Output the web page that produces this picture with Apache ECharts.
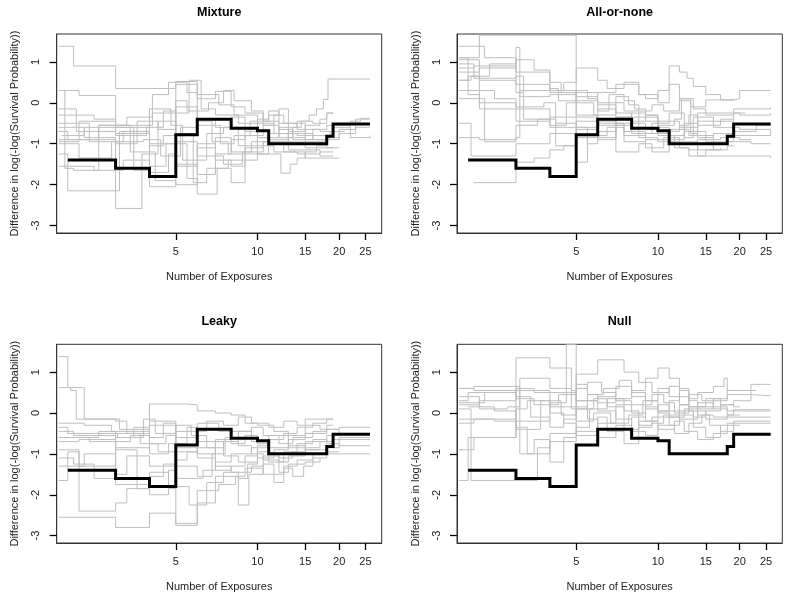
<!DOCTYPE html>
<html><head><meta charset="utf-8">
<script src="https://cdn.jsdelivr.net/npm/echarts@6/dist/echarts.min.js"></script>
<style>html,body{margin:0;padding:0;background:#fff}#c{width:789px;height:594px}</style>
</head><body><div id="c"></div>
<script>
const panelTitles = ['Mixture', 'All-or-none', 'Leaky', 'Null'];
const xTicks = [5, 10, 15, 20, 25];
const yTicks = [-3, -2, -1, 0, 1];
const xAxisTitle = 'Number of Exposures';
const yAxisTitle = 'Difference in log(-log(Survival Probability))';

// observed step curve (same in every panel)
const blackX = [2, 3, 4, 5, 6, 8, 10, 11, 18, 19, 26];
const blackY = [-1.4, -1.6, -1.8, -0.78, -0.4, -0.62, -0.68, -1.0, -0.82, -0.52, -0.52];

// simulated step curves, [x, y] pairs
const mixtureGray = [
  [[1.85,1.38],[2.1,0.9],[3.0,0.35],[5.0,0.52],[6.0,0.2],[7.2,-0.05],[8.2,-0.3],[10,-0.5],[11.5,-0.75],[13,-0.95],[15,-1.1],[19,-1.1]],
  [[1.85,-0.95],[2.2,-0.45],[3.0,-0.55],[4.1,-0.25],[5.0,0.45],[6.0,0.1],[7.0,0.28],[8.0,-0.1],[9.0,-0.25],[10.5,-0.55],[12,-0.85],[13.5,-0.6],[14.5,-0.45],[15.5,-0.3],[16.5,-0.15],[17.5,0.08],[18.2,0.58],[26,0.58]],
  [[1.85,-0.6],[2.3,-0.85],[3.0,-2.58],[3.75,-1.25],[4.3,-0.45],[5.0,-0.95],[6.0,-1.3],[7.5,-1.5],[8.8,-1.2],[10.5,-0.95],[13,-1.15],[17,-1.3],[19,-1.3]],
  [[1.85,-1.25],[2.0,-2.15],[3.1,-0.7],[4.0,-1.55],[4.6,-1.0],[5.5,-1.85],[6.0,-2.23],[7.1,-1.6],[8.0,-1.95],[9,-1.4],[10,-0.85],[12,-0.6],[14,-0.45],[16,-0.5],[18,-0.25],[19,-0.25]],
  [[1.9,0.3],[2.2,0.18],[3.0,-0.6],[4.0,-1.0],[5.0,-0.25],[5.6,0.55],[6.2,-0.15],[7.0,-0.3],[8.5,-0.5],[10,-0.85],[11,-1.0],[12.5,-1.2],[15,-1.35],[20,-1.35]],
  [[1.85,0.3],[1.95,-1.6],[2.1,-1.65],[2.6,-0.55],[3.4,-1.2],[4.2,-1.9],[5.0,-2.0],[6.0,-1.1],[7.0,-0.85],[8.0,-1.2],[9.5,-0.95],[11,-0.75],[14,-0.8],[16,-0.65],[18,-0.55],[22,-0.45],[24,-0.38],[26,-0.38]],
  [[1.85,-0.5],[2.4,-0.95],[3.2,-0.7],[4.0,-0.15],[4.8,-0.55],[5.3,-1.4],[6.5,-0.75],[7.5,-0.6],[8.5,-1.05],[10,-1.25],[12.2,-1.72],[13.2,-1.5],[14,-1.35],[15,-1.2],[16.5,-1.05],[18,-0.9],[20,-0.75],[23,-0.6],[26,-0.6]],
  [[1.85,-1.0],[2.2,-1.35],[2.9,-0.95],[3.8,-0.9],[4.4,-1.3],[5.2,-0.6],[6.0,-0.45],[6.8,-0.95],[7.8,-1.25],[9,-0.8],[10.5,-0.55],[11.5,-0.3],[12.5,-0.5],[14,-0.65],[17,-0.7],[19,-0.55],[22,-0.85],[26,-0.8]],
  [[1.85,-0.3],[2.5,-0.4],[3.0,-0.75],[4.0,-1.7],[4.7,-1.25],[5.0,-0.1],[6.0,-0.55],[7.3,-1.0],[8.2,-0.8],[9.4,-0.45],[11,-0.3],[12,-0.15],[13,-0.5],[15,-0.9],[18,-1.1],[20,-1.1]],
  [[1.85,-0.15],[2.15,-0.7],[3.0,-0.8],[3.9,-0.6],[4.5,-0.2],[5.0,-0.75],[5.8,-1.95],[6.5,-1.6],[7.8,-1.4],[9,-1.1],[10.5,-0.95],[13,-0.75],[16,-0.9],[18.5,-0.7],[21,-0.7]],
  [[1.9,-0.8],[2.3,-0.6],[3.5,-1.65],[4.0,-2.05],[5.0,-1.55],[6.0,-1.0],[7.0,-1.4],[8.0,-1.55],[9,-1.25],[11,-0.9],[13,-0.7],[15,-0.55],[17,-0.4],[18,-0.25],[19,-0.25]],
  [[1.85,-0.9],[2.6,-0.55],[3.3,-0.35],[4.1,0.2],[4.7,0.5],[5.5,0.25],[6.0,-0.4],[7.0,-0.6],[8.0,-0.35],[9,-0.7],[10,-1.05],[11.5,-1.2],[14,-1.25],[17,-1.2],[19,-1.2]],
  [[1.85,-1.55],[2.5,-1.65],[3.2,-1.4],[4.0,-1.05],[4.5,-0.8],[5.0,-1.5],[6.0,-1.75],[7.0,-1.25],[8.0,-0.9],[9.0,-0.65],[10,-0.4],[11,-0.2],[12,-0.5],[13,-0.85],[15,-0.95],[18,-0.85],[20,-0.65],[23,-0.4],[26,-0.4]],
  [[1.85,-0.7],[2.0,-0.9],[3.0,-1.0],[3.6,-0.45],[4.3,-0.65],[5.0,0.05],[5.5,-0.2],[6.6,0.0],[7.5,0.3],[8.2,0.05],[9.5,-0.2],[10.5,-0.45],[12,-0.65],[13.5,-0.9],[16,-0.8],[19,-0.6],[22,-0.6]]
];
const allOrNoneGray = [
  [[1.85,1.38],[2.3,1.1],[3.0,0.45],[4.0,0.25],[5.0,-0.3],[6.0,-0.55],[7.5,-0.7],[9,-0.9],[11,-0.95],[14,-1.3],[26,-1.35]],
  [[1.85,1.1],[2.2,1.65],[5.0,0.05],[6.0,0.0],[7.5,-0.2],[8.5,-0.35],[10,-0.45],[12,-0.6],[14,-0.45],[19,-0.25],[21,-0.25]],
  [[1.85,0.55],[2.0,0.65],[2.4,0.95],[3.0,1.05],[3.5,0.8],[4.0,0.3],[5.0,0.15],[6.0,0.25],[7.0,0.45],[8.5,0.2],[10,0.0],[11,0.9],[12,0.75],[12.8,0.6],[13.5,0.4],[15,0.2],[17,0.07],[19,0.07]],
  [[1.85,0.95],[2.1,0.6],[3.0,0.65],[3.2,-0.4],[4.0,-0.6],[5.0,-0.45],[6.0,-0.15],[7.0,-0.55],[8.0,-0.75],[9.5,-0.5],[11,-0.25],[12.5,-0.85],[13.5,-0.35],[16,-0.6],[20,-0.65],[26,-0.8]],
  [[1.85,0.3],[2.5,0.1],[3.0,-0.1],[3.8,0.0],[4.2,-0.5],[5.0,-1.45],[5.5,-0.8],[6.5,-0.6],[7.5,-0.8],[9,-1.1],[10.5,-0.85],[12,-1.0],[14,-1.15],[16,-1.0],[18,-0.95],[22,-1.0],[26,-1.0]],
  [[1.85,0.85],[2.1,0.9],[3.0,0.75],[4.0,0.5],[4.4,0.25],[5.0,0.0],[5.8,-0.3],[7.0,0.15],[7.8,-0.05],[8.5,-0.2],[9.5,-0.05],[10.5,-0.2],[12,0.1],[13.2,-0.1],[15,0.07],[19,0.1],[20,0.3],[26,0.3]],
  [[1.85,-0.85],[2.2,-0.9],[3.0,-0.55],[3.6,-0.4],[4.2,-1.05],[5.0,-0.85],[6.0,-0.45],[7.0,-1.2],[8.5,-1.0],[9.5,-1.2],[11,-0.8],[12.5,-0.5],[14,-0.85],[16,-0.75],[19,-0.7],[23,-0.55],[26,-0.55]],
  [[1.85,0.1],[2.3,-0.95],[3.0,-0.85],[3.1,0.3],[4.0,0.35],[4.3,0.05],[5.0,-0.35],[6.0,-0.9],[7.0,-0.35],[8.0,-0.5],[9.0,-0.65],[10,-0.8],[11.5,-1.1],[13,-1.15],[14,-0.9],[17,-0.85],[20,-0.9],[22,-0.9]],
  [[1.85,0.75],[2.2,0.85],[3.0,1.35],[3.1,0.15],[4.0,0.2],[5.0,0.3],[5.5,0.1],[6.0,-0.2],[6.6,0.2],[7.5,0.05],[8.2,-0.15],[9,-0.3],[10,-0.55],[11.5,-0.4],[12.2,0.1],[13.5,-0.15],[15,-0.3],[19,-0.15],[26,-0.1]],
  [[1.85,1.1],[2.0,0.2],[2.2,0.0],[3.0,-0.15],[4.0,-0.55],[4.6,0.0],[5.0,0.25],[6.0,-0.05],[7.0,-0.25],[8.0,-0.45],[9,-0.3],[10,-0.7],[12,-0.55],[13,-0.3],[14,-0.55],[17,-0.4],[19,-0.4]],
  [[1.85,-0.5],[2.05,-1.3],[3.0,-1.0],[4.0,-0.75],[5.0,-0.6],[5.5,-1.0],[6.0,-0.7],[7.0,-0.35],[8.5,-0.85],[10,-0.95],[12,-1.1],[13,-1.3],[15,-1.15],[17,-1.1]],
  [[2.1,-1.95],[3.0,-1.45],[3.5,-1.35],[4.0,-1.15],[4.5,-1.05],[5.0,-0.65],[6.0,-0.5],[7.5,-0.95],[9,-0.75],[11,-0.65],[13,-0.8],[16,-1.15],[18,-1.05],[19,-1.05]],
  [[1.85,1.05],[2.2,0.55],[3.0,0.25],[3.2,0.3],[4.5,0.5],[5.0,0.85],[6.0,0.55],[6.5,0.35],[7.5,0.5],[8.5,0.2],[9,0.1],[10,0.3],[11,0.45],[12,0.05],[13.2,-0.75],[14,-0.25],[20,-0.3],[26,-0.25]],
  [[1.85,0.55],[2.05,0.65],[2.2,-0.15],[3.0,-0.45],[4.0,-0.35],[5.0,-0.6],[6.0,-0.85],[7.0,-0.5],[8.0,-0.25],[9.0,-0.45],[10,-0.6],[11,-0.9],[12.5,-0.7],[15,-0.95],[19,-0.8],[26,-0.8]]
];
const leakyGray = [
  [[1.85,1.38],[2.0,0.62],[2.3,-0.15],[3.0,-0.2],[3.3,-0.5],[4.0,-0.3],[5.0,-0.85],[6.0,-1.0],[7.0,-0.65],[8.0,-0.45],[9.5,-0.7],[11,-0.85],[13,-0.65],[15,-0.5],[18,-0.4],[20,-0.35],[26,-0.35]],
  [[1.85,0.62],[2.05,0.55],[2.15,-0.15],[3.1,-0.4],[4.0,0.22],[5.5,0.2],[6.0,0.05],[7.0,0.0],[8.0,-0.05],[9,-0.25],[10,-0.3],[11.5,-0.45],[13,-0.55],[15,-0.15],[19,-0.15]],
  [[1.85,-2.55],[3.0,-2.8],[4.0,-2.45],[5.0,-2.75],[6.0,-2.2],[7.0,-1.55],[8.5,-2.25],[9.3,-1.5],[10.5,-1.25],[11.5,-1.7],[12.5,-1.3],[14,-1.15],[16,-1.0],[18,-0.85],[20,-0.6],[26,-0.6]],
  [[1.85,-1.65],[2.0,-0.95],[2.2,-2.4],[3.0,-2.2],[3.3,-1.85],[4.0,-2.0],[4.7,-1.4],[5.0,-2.7],[6.0,-1.9],[7.2,-1.75],[8.3,-1.55],[9,-1.35],[10.5,-1.5],[12.5,-1.35],[13.5,-1.55],[14.8,-1.3],[16,-1.1],[18,-1.0],[19.5,-1.0],[26,-1.0]],
  [[1.85,-0.9],[2.2,-1.3],[3.0,-0.7],[3.4,-0.55],[4.0,-1.0],[4.7,-0.75],[5.5,-0.35],[6.0,-0.7],[7.5,-1.05],[8.5,-1.2],[10,-0.95],[11,-1.2],[12.5,-0.95],[14,-0.75],[16,-0.65],[18,-0.75],[20,-0.8],[26,-0.8]],
  [[1.85,-0.45],[2.1,-0.55],[3.0,-0.9],[3.6,-1.85],[4.0,-1.55],[4.5,-1.25],[5.0,-0.45],[6.0,-0.25],[7.2,-0.45],[8.0,-0.75],[9,-0.55],[10,-0.75],[11,-0.55],[13,-0.85],[15,-0.7],[18,-0.55],[19,-0.55]],
  [[1.85,-1.3],[2.3,-1.0],[3.0,-0.85],[4.0,-0.6],[4.5,-0.25],[5.0,-1.6],[6.3,-1.4],[7.0,-1.2],[8.0,-1.0],[9.5,-0.85],[11,-1.0],[12,-1.2],[13,-1.05],[15,-0.9],[17,-0.9]],
  [[1.85,-0.6],[2.4,-0.7],[3.0,-1.75],[4.0,-1.45],[4.7,-1.85],[5.0,-1.3],[6.0,-1.55],[6.8,-1.0],[7.6,-0.6],[8.5,-0.8],[9.5,-1.0],[10.5,-1.15],[12,-1.45],[13,-1.25],[15,-1.2],[17,-1.1]],
  [[1.85,-0.35],[2.0,-0.5],[3.05,-0.6],[3.8,-0.15],[4.2,-0.5],[5.0,-0.3],[5.7,-0.55],[6.5,-0.85],[7.5,-0.7],[8.5,-0.45],[9.5,-0.35],[10.5,-0.55],[12,-0.75],[13.5,-0.6],[16,-0.45],[18,-0.3],[19,-0.3]],
  [[1.85,-1.1],[2.1,-1.25],[2.5,-1.6],[3.0,-1.5],[3.3,-1.05],[4.0,-1.3],[5.0,-1.15],[5.5,-0.95],[6.0,-1.1],[7.0,-1.4],[8.0,-1.3],[9.0,-1.05],[10,-0.8],[11,-0.65],[12.5,-0.5],[14,-0.35],[16,-0.25],[18,-0.15],[19,-0.15]],
  [[1.85,-0.7],[2.2,-0.65],[3.0,-0.5],[3.7,-0.75],[4.3,-0.95],[5.0,-1.8],[5.6,-2.25],[6.5,-1.7],[7.5,-1.45],[8.5,-1.6],[9.2,-1.25],[10,-1.1],[11.5,-0.9],[13,-0.8],[15,-0.9],[18,-0.95],[20,-0.95]],
  [[1.85,-0.25],[2.3,-0.3],[2.9,-0.45],[4.0,-0.75],[4.6,-0.55],[5.0,-0.95],[6.0,-0.85],[7.0,-1.3],[8.0,-1.45],[9.5,-1.3],[10.5,-1.05],[12,-1.1],[13.5,-0.95],[15,-0.85],[17,-0.7],[19,-0.65],[22,-0.65],[26,-0.65]],
  [[1.85,-0.6],[2.6,-0.45],[3.0,-0.6],[3.5,-0.35],[4.0,-0.2],[5.0,-0.6],[6.0,-0.45],[6.5,-0.2],[7.5,-0.3],[8.5,-0.1],[9.5,-0.25],[11,-0.35],[12.5,-0.2],[14,-0.3],[17,-0.4],[20,-0.5],[26,-0.5]]
];
const nullGray = [
  [[1.85,-1.65],[2.0,-0.9],[2.1,-0.6],[3.0,0.6],[3.5,0.5],[4.6,1.68],[5.0,0.3],[6.0,0.4],[7.0,0.65],[8,0.4],[9,0.1],[10,0.2],[11,0.05],[12,-0.15],[14,0.1],[16,0.3],[18,0.55],[22,0.7],[26,0.7]],
  [[1.85,0.6],[2.1,0.65],[3.0,0.65],[3.1,-1.0],[3.5,-0.65],[4.0,-1.2],[4.5,-0.6],[5.0,-0.35],[5.6,0.1],[6.5,0.35],[7.5,0.05],[8.5,-0.3],[9.5,-0.1],[11,-0.3],[12,-0.05],[13.5,-0.35],[15,-0.6],[17,-0.3],[19,-0.2],[26,-0.2]],
  [[1.85,0.2],[2.2,0.3],[3.0,1.35],[4.0,1.1],[4.8,0.55],[5.0,0.3],[6.0,0.05],[7.0,-0.15],[7.5,-0.4],[8.5,-0.2],[10,0.05],[11,0.3],[12,0.55],[13,0.3],[14,0.15],[16,0.35],[18,0.45],[22,0.42],[26,0.42]],
  [[1.85,0.1],[2.05,-1.65],[3.5,-1.65],[3.6,-0.85],[4.0,-0.7],[5.0,-0.45],[6.0,-0.1],[6.5,-0.45],[7.5,-0.75],[8.5,-0.35],[9.5,-0.25],[10.5,-0.05],[12,0.2],[13,0.05],[15,-0.15],[18,-0.05],[19,0.08],[26,0.08]],
  [[1.85,0.25],[2.3,0.5],[3.0,0.35],[3.5,0.2],[4.3,0.45],[5.0,0.95],[6.0,1.3],[7.5,1.0],[8.5,0.75],[9.5,0.5],[10,0.6],[11,0.4],[12,0.2],[13,0.45],[14.5,0.3],[16,0.1],[18,-0.05],[20,-0.05]],
  [[1.85,-0.15],[2.5,-0.2],[3.0,0.1],[3.3,0.3],[4.0,0.0],[4.5,-0.25],[5.0,-0.55],[6.0,-0.25],[7.0,0.2],[8,0.0],[9,-0.2],[10,-0.4],[11.5,-0.2],[12.5,-0.45],[14,-0.65],[16,-0.5],[18,-0.25],[26,-0.25]],
  [[1.85,0.4],[2.2,0.1],[2.8,0.15],[3.1,0.85],[4.0,0.6],[4.8,0.1],[5.5,0.45],[6.0,0.25],[7.0,0.35],[8.0,0.55],[9,0.85],[10,1.1],[11,0.85],[12,0.6],[13,0.35],[14,0.5],[16,0.65],[17.5,0.85],[18,0.55],[20,0.55]],
  [[1.85,-0.9],[2.0,-0.6],[3.0,-0.2],[4.0,0.25],[4.6,0.5],[5.0,0.15],[5.5,-0.15],[6.0,-0.6],[7.0,-0.3],[8.0,-0.1],[9.0,0.15],[10,0.0],[11,-0.1],[12,0.05],[13.5,-0.1],[15,0.05],[17,0.2],[19,0.3],[22,0.55],[23,0.55]],
  [[1.85,0.6],[2.1,0.55],[3.0,0.4],[3.4,-0.1],[4.0,-0.35],[4.5,-0.15],[5.0,0.1],[5.8,0.35],[6.5,0.15],[7.5,-0.15],[8.0,-0.45],[9.0,-0.55],[10,-0.3],[11.5,-0.5],[13,-0.25],[14.5,-0.05],[16,-0.1],[19,-0.1],[26,-0.1]],
  [[1.85,0.3],[2.0,0.5],[3.0,0.55],[4.0,0.3],[4.4,-0.05],[5.0,0.6],[5.5,0.75],[6.2,0.5],[7.0,0.3],[8.0,0.2],[9.5,0.45],[10.5,0.25],[11.5,0.0],[13,0.15],[15,0.35],[17,0.2],[19,0.15],[20,0.15]],
  [[1.85,-0.25],[2.1,-0.15],[3.0,-0.4],[3.7,0.3],[4.0,0.15],[5.0,-0.2],[5.8,0.0],[6.7,-0.25],[7.8,-0.05],[8.8,0.3],[10,0.5],[11,0.65],[12,0.4],[13,0.15],[14,-0.05],[15.5,-0.3],[17,-0.45],[19,-0.3],[20,-0.3]],
  [[2.0,0.15],[2.5,0.05],[3.0,-0.35],[3.3,-1.0],[4.0,-0.5],[5.0,0.7],[5.5,0.45],[6.3,0.6],[7.2,0.8],[8.0,0.5],[9.0,0.3],[10,0.05],[11,-0.1],[12.5,0.1],[14,0.25],[16,0.15],[18,0.05],[26,0.05]]
];
const panelGray = [mixtureGray, allOrNoneGray, leakyGray, nullGray];

const FONT = '"Liberation Sans", Arial, Helvetica, sans-serif';
const gridPos = [
  {left: 56.7, top: 34, width: 325, height: 199},
  {left: 457, top: 34, width: 325.3, height: 199},
  {left: 56.7, top: 344.3, width: 325, height: 198.7},
  {left: 457, top: 344.3, width: 325.3, height: 198.7}
];
const titleTop = [6, 6, 315.5, 315.5];

const chart = echarts.init(document.getElementById('c'), null, {renderer: 'canvas'});
const grid = [], xAxis = [], yAxis = [], series = [], title = [];
gridPos.forEach((g, i) => {
  grid.push(Object.assign({show: true, borderColor: '#333', borderWidth: 1}, g));
  title.push({
    text: panelTitles[i], left: g.left + g.width / 2, top: titleTop[i], textAlign: 'center', padding: 0,
    textStyle: {fontSize: 12.5, fontWeight: 'bold', color: '#000', fontFamily: FONT}
  });
  xAxis.push({
    type: 'log', gridIndex: i, min: 1.82, max: 28.7,
    name: xAxisTitle, nameLocation: 'middle', nameGap: 38,
    nameTextStyle: {fontSize: 11, color: '#222', fontFamily: FONT},
    axisLine: {show: true, onZero: false, lineStyle: {color: '#333', width: 1}},
    splitLine: {show: false},
    axisTick: {show: true, length: 7, customValues: xTicks, lineStyle: {color: '#000', width: 1.3}},
    axisLabel: {customValues: xTicks, fontSize: 11, color: '#222', margin: 13, fontFamily: FONT}
  });
  yAxis.push({
    type: 'value', gridIndex: i, min: -3.18, max: 1.68,
    name: yAxisTitle, nameLocation: 'middle', nameGap: 36,
    nameTextStyle: {fontSize: 11, color: '#222', fontFamily: FONT},
    axisLine: {show: true, onZero: false, lineStyle: {color: '#333', width: 1}},
    splitLine: {show: false},
    axisTick: {show: true, length: 7, customValues: yTicks, lineStyle: {color: '#000', width: 1.3}},
    axisLabel: {customValues: yTicks, rotate: 90, fontSize: 11, color: '#222', margin: 15, fontFamily: FONT}
  });
  panelGray[i].forEach((line) => {
    series.push({
      type: 'line', xAxisIndex: i, yAxisIndex: i, step: 'end', data: line,
      showSymbol: false, symbol: 'none', silent: true,
      lineStyle: {color: '#bebebe', width: 1}
    });
  });
  series.push({
    type: 'line', xAxisIndex: i, yAxisIndex: i, step: 'end',
    data: blackX.map((x, k) => [x, blackY[k]]),
    showSymbol: false, symbol: 'none', silent: true,
    lineStyle: {color: '#000', width: 3, join: 'miter', cap: 'butt'}
  });
});
chart.setOption({animation: false, title, grid, xAxis, yAxis, series});
</script>
</body></html>
